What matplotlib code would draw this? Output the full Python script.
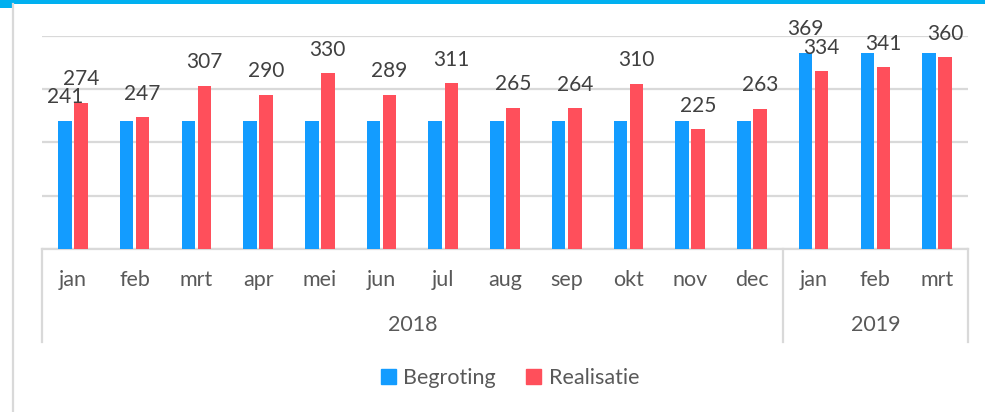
import matplotlib
matplotlib.use('Agg')
import matplotlib.pyplot as plt
import matplotlib.patches as mpatches
from matplotlib.lines import Line2D
import numpy as np

# ------------------------------------------------------------------------------
# DATA
months = ['jan', 'feb', 'mrt', 'apr', 'mei', 'jun', 'jul', 'aug', 'sep', 'okt', 'nov', 'dec',
          'jan', 'feb', 'mrt']
years = ['2018', '2019']
year_counts = [12, 3]

begroting = [241, 241, 241, 241, 241, 241, 241, 241, 241, 241, 241, 241, 369, 369, 369]
realisatie = [274, 247, 307, 290, 330, 289, 311, 265, 264, 310, 225, 263, 334, 341, 360]

# only these begroting bars carry a label in the original
begroting_labelled = [0, 12]

# ------------------------------------------------------------------------------
# STYLE
plt.rcParams['font.family'] = ['Lato', 'DejaVu Sans']
blue = '#139CFF'
red = '#FF4F5B'
grid_col = '#D9D9D9'
txt_col = '#595959'
lbl_col = '#404040'
fs = 15.5
fs_lbl = 15

fig = plt.figure(figsize=(9.85, 4.12), dpi=100)
ax = fig.add_axes([42/985, 1-249/412, (968-42)/985, (249-36)/412])

x = np.arange(len(months))
w = 0.22
off = 0.13
ax.bar(x - off, begroting, w, color=blue, zorder=3)
ax.bar(x + off, realisatie, w, color=red, zorder=3)

ax.set_ylim(0, 400)
ax.set_xlim(-0.5, len(months) - 0.5)
ax.set_yticks([0, 100, 200, 300, 400])
ax.yaxis.grid(True, color=grid_col, linewidth=1.6, zorder=0)
ax.set_yticklabels([])
ax.tick_params(left=False, bottom=False, labelbottom=False)
for s in ['top', 'right', 'left']:
    ax.spines[s].set_visible(False)
ax.spines['bottom'].set_color(grid_col)
ax.spines['bottom'].set_linewidth(1.6)

# data labels
for i in range(len(months)):
    ax.annotate(str(realisatie[i]), (x[i] + off, realisatie[i]), xytext=(0, 17),
                textcoords='offset points', ha='center', va='center',
                fontsize=fs_lbl, color=lbl_col, annotation_clip=False)
for i in begroting_labelled:
    ax.annotate(str(begroting[i]), (x[i] - off, begroting[i]), xytext=(0, 17),
                textcoords='offset points', ha='center', va='center',
                fontsize=fs_lbl, color=lbl_col, annotation_clip=False)

# multi-level category axis
tr = ax.get_xaxis_transform()
ybottom = -(342 - 249) / 213.0
for i, m in enumerate(months):
    ax.text(x[i], -(280 - 249) / 213.0, m, transform=tr, ha='center', va='center',
            fontsize=fs, color=txt_col)
start = 0
bounds = [-0.5]
for yr, n in zip(years, year_counts):
    ax.text(start + (n - 1) / 2.0, -(325 - 249) / 213.0, yr, transform=tr,
            ha='center', va='center', fontsize=fs, color=txt_col)
    start += n
    bounds.append(start - 0.5)
for b in bounds:
    ax.add_line(Line2D([b, b], [0, ybottom], transform=tr, color=grid_col,
                       linewidth=1.6, clip_on=False))

# legend
handles = [mpatches.Patch(color=blue, label='Begroting'),
           mpatches.Patch(color=red, label='Realisatie')]
fig.legend(handles=handles, loc='center', bbox_to_anchor=(510/985, 1-378/412), ncol=2,
           frameon=False, fontsize=fs, handlelength=0.7, handleheight=0.7,
           handletextpad=0.35, columnspacing=1.4, labelcolor=txt_col)

# frame decoration: cyan band on top, light border on the left
fig.add_artist(mpatches.Rectangle((12/985, 1-4/412), 1, 4/412, transform=fig.transFigure,
                                  color='#00B0F0', lw=0))
fig.add_artist(mpatches.Rectangle((0, 1-8/412), 12/985, 8/412, transform=fig.transFigure,
                                  color='#00B0F0', lw=0))
fig.add_artist(Line2D([13/985, 13/985], [0, 1-4/412], transform=fig.transFigure,
                      color=grid_col, linewidth=1.6))

fig.savefig('out.png', dpi=100)
